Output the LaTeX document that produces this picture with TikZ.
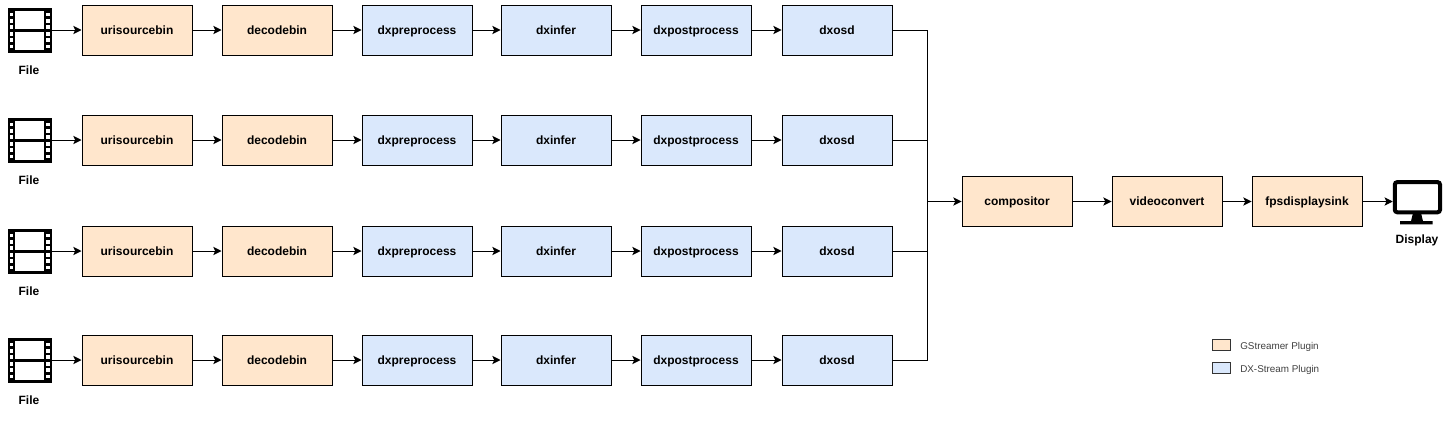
\documentclass[tikz,border=0pt]{standalone}
\usepackage{fontspec}
\setmainfont{Liberation Sans}
\usetikzlibrary{arrows.meta}
\definecolor{gstfill}{HTML}{FFE6CC}
\definecolor{dxfill}{HTML}{DAE8FC}
\tikzset{
  x=0.75pt,y=-0.75pt,
  blockbase/.style={draw=black,line width=0.75pt,minimum width=82.5pt,minimum height=37.5pt,inner sep=0pt,text height=7.1pt,text depth=1.4pt,font=\bfseries\fontsize{9}{11}\selectfont,text=black},
  gstbox/.style={blockbase,fill=gstfill},
  dxbox/.style={blockbase,fill=dxfill},
  rowtext/.style={text height=7.7pt,text depth=0.8pt},
  flow/.style={draw=black,line width=0.75pt,-{Stealth[length=6.2pt,width=6.2pt,inset=1.5pt]}},
  plainflow/.style={draw=black,line width=0.75pt},
  caption/.style={font=\bfseries\fontsize{9}{11}\selectfont,text=black,inner sep=0pt},
  legendtext/.style={font=\fontsize{7.4}{9}\selectfont,text=black!75,inner sep=0pt,anchor=west,text height=5.4pt,text depth=1.6pt},
  filmicon/.style={fill=black,draw=none,minimum width=33pt,minimum height=33.75pt,inner sep=0pt},
  hole/.style={fill=white,draw=none},
  legendswatch/.style={draw=black!80,line width=0.75pt,minimum width=13.5pt,minimum height=8.25pt,inner sep=0pt},
}
\begin{document}
\begin{tikzpicture}
\useasboundingbox (0,0) rectangle (1448,421);
\coordinate (merge) at (927,201.5);
\foreach \r/\yc/\yi/\yl in {1/30/30.5/70, 2/140/140.5/180, 3/251/251.5/291, 4/360/360.5/400}{
  \node[filmicon] (film\r) at (29.6,\yi) {};
  \begin{scope}[shift={(29.6,\yi)}]
    \fill[white] (-14.3,-19.5) rectangle (14.1,-1.5);
    \fill[white] (-14.3,1.8) rectangle (14.1,19.5);
    \foreach \hy in {-16,-9.6,-3.3,3.3,9.6,16}{
      \fill[hole] (-20,\hy-1.8) rectangle (-16.4,\hy+1.8);
      \fill[hole] (16.6,\hy-1.8) rectangle (20.2,\hy+1.8);
    }
  \end{scope}
  \node[caption] (filecap\r) at (29,\yl) {File};
  \node[gstbox,rowtext] (uri\r) at (137,\yc) {urisourcebin};
  \node[gstbox,rowtext] (dec\r) at (277,\yc) {decodebin};
  \node[dxbox,rowtext] (pre\r) at (417,\yc) {dxpreprocess};
  \node[dxbox,rowtext] (inf\r) at (556,\yc) {dxinfer};
  \node[dxbox,rowtext] (post\r) at (696,\yc) {dxpostprocess};
  \node[dxbox,rowtext] (osd\r) at (837,\yc) {dxosd};
  \draw[flow] (film\r.east |- uri\r.west) -- (uri\r.west);
  \draw[flow] (uri\r) -- (dec\r);
  \draw[flow] (dec\r) -- (pre\r);
  \draw[flow] (pre\r) -- (inf\r);
  \draw[flow] (inf\r) -- (post\r);
  \draw[flow] (post\r) -- (osd\r);
  \draw[plainflow] (osd\r.east) -| (merge);
}
\node[gstbox] (comp) at (1017,201.5) {compositor};
\node[gstbox] (conv) at (1167,201.5) {videoconvert};
\node[gstbox] (fps) at (1307,201.5) {fpsdisplaysink};
\draw[flow] (merge) -- (comp.west);
\draw[flow] (comp) -- (conv);
\draw[flow] (conv) -- (fps);
% display icon
\node[draw=black,line width=3pt,rounded corners=2pt,fill=white,minimum width=34pt,minimum height=22.7pt,inner sep=0pt,outer sep=1.5pt] (mon) at (1417.4,197.2) {};
\fill[black] (1413,213) -- (1421,213) -- (1423,221.2) -- (1432.7,221.2) -- (1432.7,224.4) -- (1400,224.4) -- (1400,221.2) -- (1411,221.2) -- cycle;
\draw[flow] (fps.east) -- (fps.east -| mon.west);
\node[caption] (dispcap) at (1417,240) {Display};
% legend
\node[legendswatch,fill=gstfill] (lg) at (1221,345) {};
\node[legendswatch,fill=dxfill] (ld) at (1221,368) {};
\node[legendtext] (lgt) at (1240,346.8) {GStreamer Plugin};
\node[legendtext] (ldt) at (1240,369.8) {DX-Stream Plugin};
\end{tikzpicture}
\end{document}
